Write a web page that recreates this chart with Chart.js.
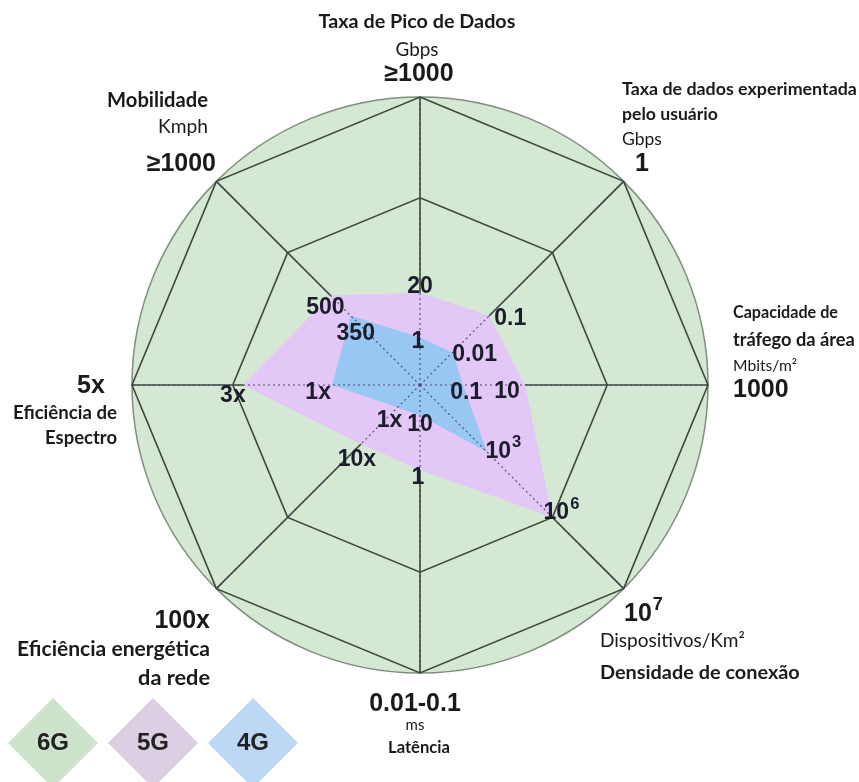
<!DOCTYPE html>
<html>
<head>
<meta charset="utf-8">
<script src="https://cdn.jsdelivr.net/npm/chart.js@4.4.0/dist/chart.umd.min.js"></script>
<style>
  html, body { margin: 0; padding: 0; background: #fff; }
  #wrap { position: relative; width: 859px; height: 782px; }
  #wrap canvas { position: absolute; left: 0; top: 0; }
</style>
</head>
<body>
<div id="wrap">
  <canvas id="base" width="859" height="782"></canvas>
  <canvas id="over" width="859" height="782"></canvas>
</div>
<script>
// eixos, a partir do topo no sentido horario
const categorias = ['Taxa de Pico de Dados', 'Taxa de dados experimentada pelo usuário', 'Capacidade de tráfego da área',
  'Densidade de conexão', 'Latência', 'Eficiência energética da rede', 'Eficiência de Espectro', 'Mobilidade'];

// valores (0 = centro, 100 = borda)
const valores6G = [100, 100, 100, 100, 100, 100, 100, 100];
const valores5G = [32, 34, 36.5, 65, 29.5, 29, 61.5, 44];
const valores4G = [16.5, 16, 15, 33, 10.5, 11, 30.5, 34];

// rotulos de cada geracao em cada eixo
const rotulos6G = ['≥1000', '1', '1000', '10^7', '0.01-0.1', '100x', '5x', '≥1000'];
const rotulos5G = ['20', '0.1', '10', '10^6', '1', '10x', '3x', '500'];
const rotulos4G = ['1', '0.01', '0.1', '10^3', '10', '1x', '1x', '350'];
const unidades = ['Gbps', 'Gbps', 'Mbits/m²', 'Dispositivos/Km²', 'ms', '', '', 'Kmph'];
const geracoes = ['6G', '5G', '4G'];

const LATO = 'Lato, "Open Sans", sans-serif';
const ARIAL = '"Liberation Sans", Arial, sans-serif';
const TXT = '#1a1a1a';
const INNER = '#1c1c2c';

// deslocamento dos rotulos internos em relacao ao vertice
const off5G = [[0, -6], [21, 3], [-18, 7], [4, -5], [-2, 8], [-4, 16], [-10, 11], [-5, 12]];
const off4G = [[-2, 4], [22, 2], [3, 8], [11, -1], [0, 9], [-8, 13], [-14, 8], [5, 18]];

// textos externos
const externos = [
  { t: categorias[0], x: 417, y: 22, a: 'center', f: LATO, wt: 'bold', w: 197 },
  { t: unidades[0], x: 417, y: 50, a: 'center', f: LATO, wt: 'normal', w: 43 },
  { t: rotulos6G[0], x: 419, y: 74, a: 'center', f: ARIAL, wt: 'bold', s: 25 },

  { t: 'Taxa de dados experimentada', x: 622, y: 89, a: 'left', f: LATO, wt: 'bold', w: 235 },
  { t: 'pelo usuário', x: 622, y: 114, a: 'left', f: LATO, wt: 'bold', w: 96 },
  { t: unidades[1], x: 622, y: 139, a: 'left', f: LATO, wt: 'normal', w: 40 },
  { t: rotulos6G[1], x: 635, y: 164, a: 'left', f: ARIAL, wt: 'bold', s: 25 },

  { t: 'Capacidade de', x: 733, y: 313, a: 'left', f: LATO, wt: 'bold', w: 105 },
  { t: 'tráfego da área', x: 733, y: 340, a: 'left', f: LATO, wt: 'bold', w: 122 },
  { t: unidades[2], x: 733, y: 366, a: 'left', f: LATO, wt: 'normal', w: 64 },
  { t: rotulos6G[2], x: 733, y: 390, a: 'left', f: ARIAL, wt: 'bold', s: 25 },

  { t: rotulos6G[3], x: 624, y: 614, a: 'left', f: ARIAL, wt: 'bold', s: 25 },
  { t: unidades[3], x: 600, y: 641, a: 'left', f: LATO, wt: 'normal', w: 145 },
  { t: categorias[3], x: 600, y: 673, a: 'left', f: LATO, wt: 'bold', w: 200 },

  { t: rotulos6G[4], x: 415, y: 704, a: 'center', f: ARIAL, wt: 'bold', s: 25 },
  { t: unidades[4], x: 415, y: 725, a: 'center', f: LATO, wt: 'normal', s: 15 },
  { t: categorias[4], x: 419, y: 748, a: 'center', f: LATO, wt: 'bold', w: 62 },

  { t: rotulos6G[5], x: 210, y: 621, a: 'right', f: ARIAL, wt: 'bold', s: 25 },
  { t: 'Eficiência energética', x: 210, y: 649, a: 'right', f: LATO, wt: 'bold', w: 193 },
  { t: 'da rede', x: 210, y: 678, a: 'right', f: LATO, wt: 'bold', w: 72 },

  { t: rotulos6G[6], x: 77, y: 386, a: 'left', f: ARIAL, wt: 'bold', s: 25 },
  { t: 'Eficiência de', x: 117, y: 413, a: 'right', f: LATO, wt: 'bold', w: 104 },
  { t: 'Espectro', x: 117, y: 438, a: 'right', f: LATO, wt: 'bold', w: 72 },

  { t: categorias[7], x: 208, y: 100, a: 'right', f: LATO, wt: 'bold', w: 101 },
  { t: unidades[7], x: 208, y: 127, a: 'right', f: LATO, wt: 'normal', w: 50 },
  { t: rotulos6G[7], x: 216, y: 164, a: 'right', f: ARIAL, wt: 'bold', s: 25 },
];

const cores = ['#d5e8d4', '#e3c7f7', '#98c7f4'];
const coresLegenda = ['#cde3cc', '#dccfe3', '#bdd8f4'];

function drawText(ctx, o) {
  let size = o.s;
  if (!size) {
    ctx.font = o.wt + ' 100px ' + o.f;
    size = 100 * o.w / ctx.measureText(o.t).width;
  }
  const parts = o.t.split('^');
  ctx.font = o.wt + ' ' + size + 'px ' + o.f;
  ctx.fillStyle = o.c || TXT;
  const w0 = ctx.measureText(parts[0]).width;
  let left = o.x;
  if (o.a === 'center') left = o.x - w0 / 2;
  if (o.a === 'right') left = o.x - w0;
  ctx.textAlign = 'left';
  ctx.fillText(parts[0], left, o.y);
  if (parts[1]) {
    // expoente
    ctx.font = o.wt + ' ' + (size * 0.72) + 'px ' + o.f;
    ctx.fillText(parts[1], left + w0 + 1, o.y - size * 0.36);
  }
}

const textos = {
  id: 'textos',
  afterDraw(chart) {
    const ctx = chart.ctx;
    const r = chart.scales.r;
    ctx.save();
    ctx.textBaseline = 'middle';

    // legenda em losangos
    geracoes.forEach((g, i) => {
      const cx = 53 + i * 100, cy = 743, h = 45;
      ctx.beginPath();
      ctx.moveTo(cx, cy - h);
      ctx.lineTo(cx + h, cy);
      ctx.lineTo(cx, cy + h);
      ctx.lineTo(cx - h, cy);
      ctx.closePath();
      ctx.fillStyle = coresLegenda[i];
      ctx.fill();
      drawText(ctx, { t: g, x: cx, y: cy, a: 'center', f: ARIAL, wt: 'bold', s: 24, c: '#222' });
    });

    externos.forEach(o => drawText(ctx, o));

    [[valores5G, rotulos5G, off5G], [valores4G, rotulos4G, off4G]].forEach(([vals, txt, off]) => {
      vals.forEach((v, i) => {
        const p = r.getPointPositionForValue(i, v);
        drawText(ctx, { t: txt[i], x: p.x + off[i][0], y: p.y + off[i][1], a: 'center', f: ARIAL, wt: 'bold', s: 23, c: INNER });
      });
    });
    ctx.restore();
  }
};

function opcoes(escala) {
  return {
    responsive: false,
    animation: false,
    devicePixelRatio: 1,
    layout: { padding: { left: 132, right: 151, top: 97, bottom: 109 } },
    plugins: { legend: { display: false }, tooltip: { enabled: false } },
    elements: { point: { radius: 0, hoverRadius: 0 } },
    scales: {
      r: Object.assign({
        min: 0,
        max: 100,
        ticks: { display: false, stepSize: 5 },
        pointLabels: { display: false },
      }, escala)
    }
  };
}

// grafico de baixo: circulo do 6G + grade solida
new Chart(document.getElementById('base'), {
  type: 'radar',
  data: {
    labels: categorias,
    datasets: [{
      label: geracoes[0],
      data: valores6G,
      backgroundColor: cores[0],
      borderColor: '#7f8e7f',
      borderWidth: 1.5,
      fill: true,
      tension: 0.375, // 8 pontos com essa tensao ficam um circulo
    }]
  },
  options: opcoes({
    grid: {
      z: 1,
      lineWidth: 1.6,
      color: c => (c.tick && (c.tick.value === 65 || c.tick.value === 100)) ? '#3b4a3b' : 'rgba(0,0,0,0)',
    },
    angleLines: { color: '#3b4a3b', lineWidth: 1.6 },
  })
});

// grafico de cima: 5G e 4G + eixos pontilhados
new Chart(document.getElementById('over'), {
  type: 'radar',
  data: {
    labels: categorias,
    datasets: [{
      label: geracoes[1],
      data: valores5G,
      backgroundColor: cores[1],
      borderWidth: 0,
      fill: true,
      order: 2,
    }, {
      label: geracoes[2],
      data: valores4G,
      backgroundColor: cores[2],
      borderWidth: 0,
      fill: true,
      order: 1,
    }]
  },
  options: opcoes({
    grid: { z: 1, display: false },
    angleLines: { color: '#4a4a6e', lineWidth: 1.1, borderDash: [2, 3] },
  }),
  plugins: [textos]
});
</script>
</body>
</html>
